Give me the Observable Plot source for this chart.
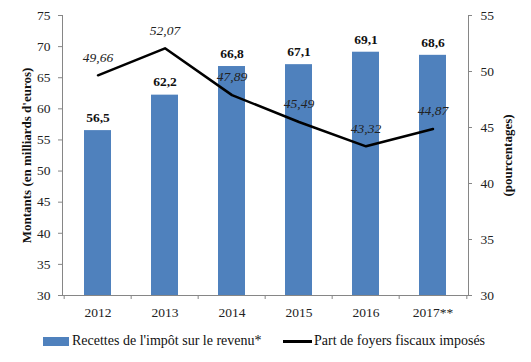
<!DOCTYPE html>
<html><head><meta charset="utf-8">
<script src="https://cdn.jsdelivr.net/npm/d3@7"></script>
<script src="https://cdn.jsdelivr.net/npm/@observablehq/plot@0.6"></script>
<style>
body{margin:0;background:#fff;}
#chart{width:531px;height:362px;position:relative;font-family:"Liberation Serif","DejaVu Serif",serif;color:#222;}
#chart svg{display:block;}
.legend{position:absolute;top:332px;left:0;width:531px;height:18px;font-size:14px;font-family:"Liberation Serif","DejaVu Serif",serif;color:#111;}
.item{position:absolute;top:0;display:flex;align-items:center;height:18px;white-space:nowrap;}
.sw-bar{width:26px;height:9px;background:#4F81BD;margin-right:3px;}
.sw-line{width:29px;height:3px;background:#000;margin-right:2px;}
</style></head><body><div id="chart"></div>
<script>
const years = ["2012","2013","2014","2015","2016","2017**"];
const recettes = [56.5, 62.2, 66.8, 67.1, 69.1, 68.6];
const partFoyers = [49.66, 52.07, 47.89, 45.49, 43.32, 44.87];
const leftTicks = [30, 35, 40, 45, 50, 55, 60, 65, 70, 75];
const rightTicks = [30, 35, 40, 45, 50, 55];
const seriesNames = ["Recettes de l'impôt sur le revenu*", "Part de foyers fiscaux imposés"];
const axisTitles = ["Montants (en milliards d'euros)", "(pourcentages)"];

const W = 531, H = 325, mL = 62, mR = 63, mT = 15, mB = 30;
const leftDom = [leftTicks[0], leftTicks[leftTicks.length - 1]];
const rightDom = [rightTicks[0], rightTicks[rightTicks.length - 1]];
const toLeft = v => leftDom[0] + (v - rightDom[0]) * (leftDom[1] - leftDom[0]) / (rightDom[1] - rightDom[0]);
const fromLeft = v => rightDom[0] + (v - leftDom[0]) * (rightDom[1] - rightDom[0]) / (leftDom[1] - leftDom[0]);
const fmt = v => String(v).replace(".", ",");
const rows = years.map((y, i) => ({year: y, r: recettes[i], p: partFoyers[i], pL: toLeft(partFoyers[i])}));
const step = (W - mL - mR) / years.length;
const gray = "#868686";
const blue = "#4F81BD";

const plot = Plot.plot({
  width: W, height: H,
  marginLeft: mL, marginRight: mR, marginTop: mT, marginBottom: mB,
  style: {fontFamily: "'Liberation Serif','DejaVu Serif',serif", fontSize: "13.5px", color: "#222", background: "#fff"},
  x: {type: "band", domain: years, paddingInner: 0.6, paddingOuter: 0.3},
  y: {domain: leftDom},
  marks: [
    Plot.barY(rows, {x: "year", y1: leftDom[0], y2: "r", fill: blue}),
    Plot.ruleY([leftDom[0]], {stroke: gray}),
    Plot.frame({anchor: "left", stroke: gray}),
    Plot.frame({anchor: "right", stroke: gray}),
    Plot.axisX(years, {tickSize: 4, dx: -step / 2, tickFormat: () => "", stroke: gray, label: null}),
    Plot.axisX([years[years.length - 1]], {tickSize: 4, dx: step / 2, tickFormat: () => "", stroke: gray, label: null}),
    Plot.axisX({tickSize: 0, tickPadding: 12, label: null}),
    Plot.axisY(leftTicks, {anchor: "left", tickSize: 4, tickFormat: () => "", stroke: gray, label: null}),
    Plot.axisY(leftTicks, {anchor: "left", tickSize: 0, tickPadding: 12, label: null}),
    Plot.axisY(rightTicks.map(toLeft), {anchor: "right", tickSize: 3, tickFormat: () => "", stroke: gray, label: null}),
    Plot.axisY(rightTicks.map(toLeft), {anchor: "right", tickSize: 0, tickPadding: 12, tickFormat: v => String(Math.round(fromLeft(v))), label: null}),
    Plot.text([axisTitles[0]], {frameAnchor: "left", textAnchor: "middle", rotate: -90, dx: -36, fontWeight: "bold", fontSize: 13, fill: "#111"}),
    Plot.text([axisTitles[1]], {frameAnchor: "right", textAnchor: "middle", rotate: -90, dx: 39, fontWeight: "bold", fontSize: 13, fill: "#111"}),
    Plot.text(rows, {x: "year", y: "r", text: d => fmt(d.r), dy: -13, fontWeight: "bold", fontSize: 13.5, fill: "#111"}),
    Plot.line(rows, {x: "year", y: "pL", stroke: "#000", strokeWidth: 2.5}),
    Plot.text(rows, {x: "year", y: "pL", text: d => fmt(d.p), dy: -18, fontStyle: "italic", fontSize: 13.5, fill: "#222"})
  ]
});
const chart = document.getElementById("chart");
chart.appendChild(plot);
const leg = document.createElement("div");
leg.className = "legend";
leg.innerHTML = `<div class="item" style="left:43px"><span class="sw-bar"></span><span>${seriesNames[0]}</span></div>` +
  `<div class="item" style="left:283px"><span class="sw-line"></span><span>${seriesNames[1]}</span></div>`;
chart.appendChild(leg);
</script></body></html>
